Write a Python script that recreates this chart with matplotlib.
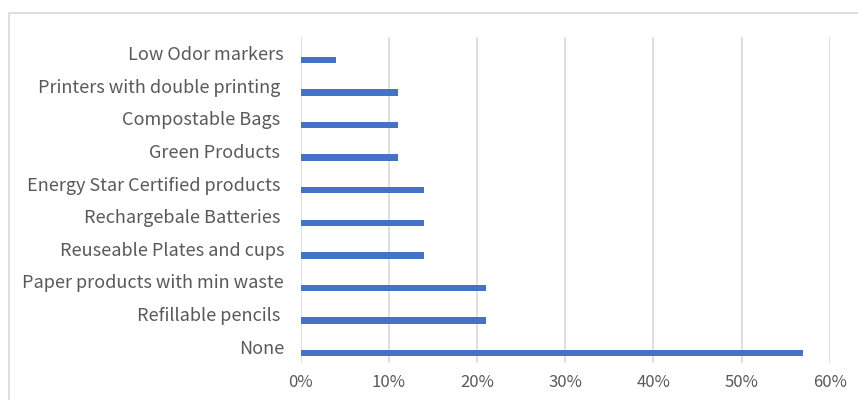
import matplotlib
matplotlib.use("Agg")
import matplotlib.pyplot as plt
from matplotlib.patches import Rectangle
from matplotlib.ticker import FuncFormatter

plt.rcParams['font.family'] = ['Noto Sans CJK SC', 'DejaVu Sans']

# Categories listed top to bottom, with share of respondents (%)
categories = [
    "Low Odor markers",
    "Printers with double printing ",
    "Compostable Bags ",
    "Green Products ",
    "Energy Star Certified products ",
    "Rechargebale Batteries ",
    "Reuseable Plates and cups",
    "Paper products with min waste",
    "Refillable pencils ",
    "None",
]
shares = [4, 11, 11, 11, 14, 14, 14, 21, 21, 57]
x_ticks = [0, 10, 20, 30, 40, 50, 60]

W, H = 858, 400
fig = plt.figure(figsize=(W / 100, H / 100), dpi=100)

# chart-area frame
fig.add_artist(Rectangle((9 / W, -0.1), 1.2, (H - 13) / H + 0.1,
                         transform=fig.transFigure, fill=False,
                         edgecolor="#d9d9d9", linewidth=1.2))

left, right, top, bottom = 300.7, 829.7, 37, 363
ax = fig.add_axes([left / W, 1 - bottom / H, (right - left) / W, (bottom - top) / H])

pos = list(range(len(categories)))
ax.barh([p + 0.2 for p in pos], shares, height=0.2, color="#4472c4", zorder=3)

ax.set_ylim(len(categories) - 0.5, -0.5)
ax.set_xlim(0, 60)
ax.set_xticks(x_ticks)
ax.xaxis.set_major_formatter(FuncFormatter(lambda v, _: f"{v:.0f}%"))
ax.set_yticks(pos)
ax.set_yticklabels(categories)

ax.grid(axis="x", color="#d9d9d9", linewidth=1.2, zorder=0)
for s in ax.spines.values():
    s.set_visible(False)
ax.tick_params(axis="both", length=0, colors="#595959")
ax.tick_params(axis="y", pad=12, labelsize=13)
ax.tick_params(axis="x", pad=8, labelsize=12)

fig.savefig("out.png", dpi=100)
